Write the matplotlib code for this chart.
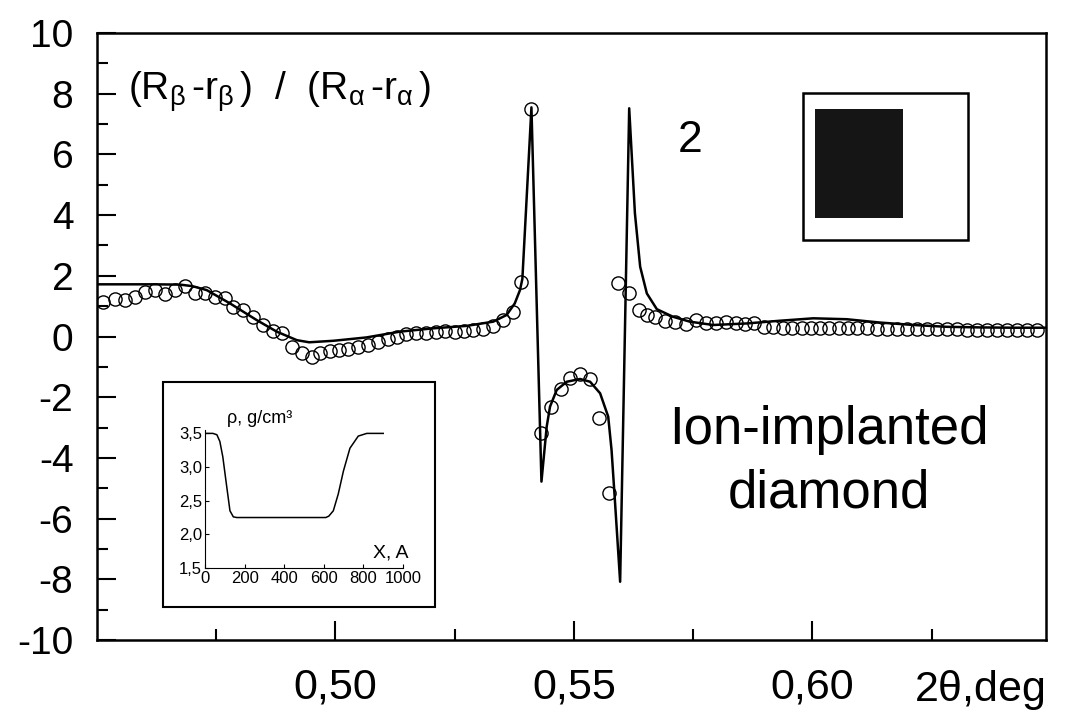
import matplotlib
matplotlib.use('Agg')
import matplotlib.pyplot as plt
from matplotlib.patches import Rectangle

plt.rcParams['font.family'] = 'Liberation Sans'
plt.rcParams['mathtext.fontset'] = 'custom'
plt.rcParams['mathtext.rm'] = 'Liberation Sans'
plt.rcParams['mathtext.it'] = 'Liberation Sans'

# measured points (open circles)
meas_x = [0.4513, 0.4538, 0.4559, 0.4580, 0.4601, 0.4622, 0.4643, 0.4664, 0.4685, 0.4706,
          0.4726, 0.4747, 0.4768, 0.4786, 0.4807, 0.4828, 0.4849, 0.4870, 0.4887, 0.4908,
          0.4929, 0.4950, 0.4968, 0.4989, 0.5008, 0.5027, 0.5048, 0.5069, 0.5090, 0.5111,
          0.5130, 0.5149, 0.5169, 0.5190, 0.5211, 0.5230, 0.5251, 0.5270, 0.5289, 0.5309,
          0.5330, 0.5351, 0.5372, 0.5390, 0.5411, 0.5432, 0.5453, 0.5473, 0.5492, 0.5513,
          0.5534, 0.5553, 0.5574, 0.5593, 0.5616, 0.5637, 0.5653, 0.5670, 0.5691, 0.5712,
          0.5736, 0.5757, 0.5778, 0.5798, 0.5819, 0.5840, 0.5859, 0.5878, 0.5899, 0.5918,
          0.5938, 0.5957, 0.5978, 0.5997, 0.6016, 0.6036, 0.6057, 0.6075, 0.6093, 0.6114,
          0.6135, 0.6156, 0.6177, 0.6198, 0.6219, 0.6240, 0.6261, 0.6282, 0.6303, 0.6324,
          0.6345, 0.6366, 0.6387, 0.6408, 0.6429, 0.6450, 0.6471]
meas_y = [1.15, 1.23, 1.20, 1.31, 1.48, 1.53, 1.40, 1.53, 1.67, 1.42,
          1.45, 1.31, 1.28, 0.96, 0.87, 0.65, 0.38, 0.18, 0.13, -0.34,
          -0.55, -0.67, -0.55, -0.48, -0.44, -0.41, -0.34, -0.28, -0.17, -0.08,
          -0.03, 0.08, 0.10, 0.13, 0.16, 0.19, 0.16, 0.17, 0.21, 0.25,
          0.35, 0.54, 0.80, 1.79, 7.50, -3.19, -2.31, -1.74, -1.38, -1.24,
          -1.41, -2.68, -5.15, 1.77, 1.42, 0.87, 0.71, 0.63, 0.51, 0.49,
          0.41, 0.54, 0.45, 0.43, 0.49, 0.43, 0.41, 0.43, 0.32, 0.32,
          0.29, 0.29, 0.29, 0.27, 0.27, 0.27, 0.27, 0.27, 0.27, 0.27,
          0.26, 0.26, 0.25, 0.25, 0.25, 0.24, 0.24, 0.24, 0.24, 0.23,
          0.23, 0.23, 0.23, 0.23, 0.22, 0.22, 0.22]

# calculated curve (solid line)
fit_x = [0.4500, 0.4560, 0.4620, 0.4674, 0.4700, 0.4730, 0.4779, 0.4835, 0.4877, 0.4919,
         0.4945, 0.4996, 0.5065, 0.5135, 0.5205, 0.5275, 0.5331, 0.5359, 0.5376, 0.5387,
         0.5392, 0.5411, 0.5432, 0.5443, 0.5450, 0.5464, 0.5485, 0.5513, 0.5534, 0.5555,
         0.5572, 0.5579, 0.5586, 0.5597, 0.5616, 0.5628, 0.5639, 0.5653, 0.5674, 0.5708,
         0.5743, 0.5792, 0.5862, 0.5932, 0.6002, 0.6072, 0.6142, 0.6212, 0.6282, 0.6352,
         0.6421, 0.6490]
fit_y = [1.72, 1.72, 1.72, 1.71, 1.66, 1.53, 1.09, 0.54, 0.16, -0.12,
         -0.19, -0.14, -0.03, 0.16, 0.27, 0.35, 0.49, 0.71, 1.09, 1.53,
         1.90, 7.55, -4.78, -2.97, -2.31, -1.76, -1.49, -1.40, -1.49, -1.87,
         -2.64, -3.74, -5.39, -8.08, 7.52, 4.06, 2.30, 1.42, 0.90, 0.65,
         0.49, 0.38, 0.43, 0.52, 0.60, 0.57, 0.46, 0.38, 0.32, 0.30,
         0.29, 0.29]

# density profile of the inset
depth_x = [0, 40, 60, 75, 90, 106, 126, 143, 160, 400, 610, 625, 648, 673, 699, 732, 774, 817, 900]
density = [3.50, 3.50, 3.48, 3.38, 3.15, 2.79, 2.35, 2.26, 2.25, 2.25, 2.25, 2.27, 2.35, 2.60,
           2.94, 3.28, 3.46, 3.50, 3.50]

x_ticks = [0.50, 0.55, 0.60]
x_tick_labels = ['0,50', '0,55', '0,60']
x_minor = [0.475, 0.525, 0.575, 0.625]
y_ticks = [-10, -8, -6, -4, -2, 0, 2, 4, 6, 8, 10]
y_tick_labels = ['-10', '-8', '-6', '-4', '-2', '0', '2', '4', '6', '8', '10']
y_minor = [-9, -7, -5, -3, -1, 1, 3, 5, 7, 9]

inset_x_ticks = [0, 200, 400, 600, 800, 1000]
inset_x_labels = ['0', '200', '400', '600', '800', '1000']
inset_y_ticks = [1.5, 2.0, 2.5, 3.0, 3.5]
inset_y_labels = ['1,5', '2,0', '2,5', '3,0', '3,5']


def main():
    fig = plt.figure(figsize=(10.79, 7.16), dpi=100)
    ax = fig.add_axes([0.0899, 0.1061, 0.8795, 0.8478])

    ax.plot(fit_x, fit_y, '-', color='black', linewidth=1.8, zorder=3)
    ax.plot(meas_x, meas_y, 'o', mfc='none', mec='black', ms=9.5, mew=1.0, zorder=2)

    ax.set_xlim(0.45, 0.649)
    ax.set_ylim(-10, 10)

    ax.set_xticks(x_ticks)
    ax.set_xticklabels(x_tick_labels)
    ax.set_xticks(x_minor, minor=True)
    ax.set_yticks(y_ticks)
    ax.set_yticklabels(y_tick_labels)
    ax.set_yticks(y_minor, minor=True)
    ax.tick_params(axis='both', which='major', direction='in', length=14, width=1.5)
    ax.tick_params(axis='both', which='minor', direction='in', length=8, width=1.5)
    ax.tick_params(axis='x', which='major', labelsize=31, pad=20)
    ax.tick_params(axis='y', which='major', labelsize=28, pad=17)
    for sp in ax.spines.values():
        sp.set_linewidth(1.8)

    ylab = (r'$\mathregular{(R_{\beta}\,\text{-}r_{\beta}\,)\ \ /\ \ '
            r'(R_{\alpha}\,\text{-}r_{\alpha}\,)}$')
    ax.text(0.4565, 7.79, ylab, fontsize=28, ha='left', va='baseline')
    ax.text(0.5744, 6.47, '2', fontsize=32, ha='center', va='center')
    ax.text(0.6035, -3.08, 'Ion-implanted', fontsize=38, ha='center', va='center')
    ax.text(0.6035, -5.16, 'diamond', fontsize=38, ha='center', va='center')
    fig.text(1045 / 1079, 1 - 690 / 716, r'2$\mathregular{\theta}$,deg', fontsize=31,
             ha='right', va='center')

    # top right sketch: frame with dark block
    fig.add_artist(Rectangle((0.7442, 0.6648), 0.1529, 0.2053, transform=fig.transFigure,
                             facecolor='white', edgecolor='black', linewidth=1.8))
    fig.add_artist(Rectangle((0.7553, 0.6955), 0.0816, 0.1522, transform=fig.transFigure,
                             facecolor='#151515', edgecolor='none'))

    # inset: density profile
    fig.add_artist(Rectangle((0.1511, 0.1522), 0.2521, 0.3142, transform=fig.transFigure,
                             facecolor='white', edgecolor='black', linewidth=1.5, zorder=4))
    ins = fig.add_axes([0.19, 0.2067, 0.1835, 0.1927], zorder=5)
    ins.patch.set_alpha(0)
    ins.plot(depth_x, density, '-', color='black', linewidth=1.1)
    ins.set_xlim(0, 1000)
    ins.set_ylim(1.5, 3.55)
    ins.spines['top'].set_visible(False)
    ins.spines['right'].set_visible(False)
    ins.set_xticks(inset_x_ticks)
    ins.set_xticklabels(inset_x_labels)
    ins.set_yticks(inset_y_ticks)
    ins.set_yticklabels(inset_y_labels)
    ins.tick_params(direction='in', length=3, labelsize=12, pad=2)
    ins.text(110, 3.72, '\u03c1, g/cm\u00b3', fontsize=13, ha='left', va='center', clip_on=False)
    ins.text(850, 1.72, 'X, A', fontsize=14, ha='left', va='center', clip_on=False)

    fig.savefig('out.png', dpi=100)


if __name__ == '__main__':
    main()
